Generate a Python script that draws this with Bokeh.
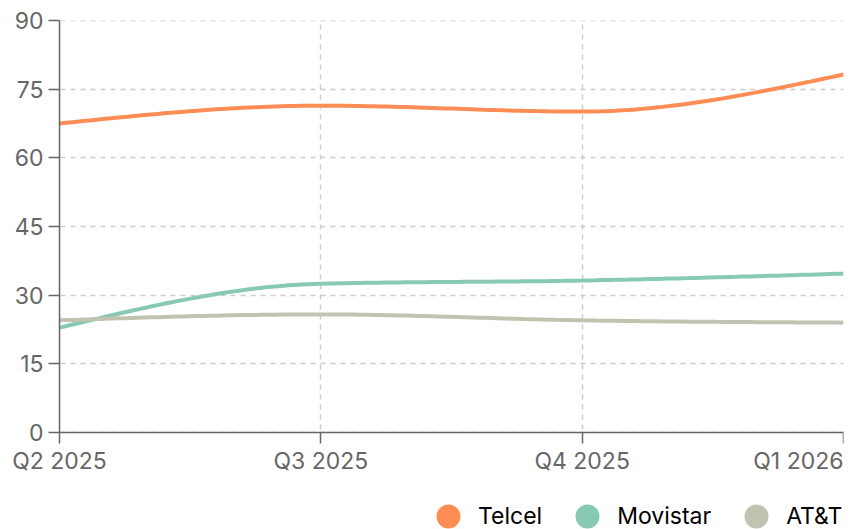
import numpy as np
from bokeh.plotting import figure
from bokeh.models import (Range1d, FixedTicker, Legend, LegendItem, Label,
                          BoxAnnotation)
from bokeh.embed import file_html
from bokeh.resources import INLINE

# ---------------- data ----------------
quarters = ["Q2 2025", "Q3 2025", "Q4 2025", "Q1 2026"]
telcel = [67.5, 71.4, 70.1, 78.2]
movistar = [22.9, 32.5, 33.2, 34.7]
att = [24.5, 25.8, 24.5, 24.0]
series_names = ["Telcel", "Movistar", "AT&T"]
series_colors = ["#fd8d55", "#88c9b4", "#c1c3b1"]
y_ticks = [0, 15, 30, 45, 60, 75, 90]

FONT = "Inter"
GRAY = "#666666"
FS = "23px"

W, H = 861, 529
LEFT, RIGHT, TOP = 59, 843, 20      # plot-area edges (px)
ZERO_PX = 432                       # where y = 0 sits (px)


def monotone_curve(xs, ys, n=40):
    """Monotone cubic (d3 curveMonotoneX style) rendering of a series."""
    xs = np.asarray(xs, float)
    ys = np.asarray(ys, float)
    h = np.diff(xs)
    s = np.diff(ys) / h
    m = len(xs)
    t = np.zeros(m)
    for i in range(1, m - 1):
        s0, s1 = s[i - 1], s[i]
        p_ = (s0 * h[i] + s1 * h[i - 1]) / (h[i - 1] + h[i])
        t[i] = (np.sign(s0) + np.sign(s1)) * min(abs(s0), abs(s1), 0.5 * abs(p_))
    t[0] = (3 * s[0] - t[1]) / 2 if m > 2 else s[0]
    t[-1] = (3 * s[-1] - t[-2]) / 2 if m > 2 else s[-1]
    ox, oy = [], []
    for i in range(m - 1):
        u = np.linspace(0, 1, n, endpoint=(i == m - 2))
        h00 = 2 * u**3 - 3 * u**2 + 1
        h10 = u**3 - 2 * u**2 + u
        h01 = -2 * u**3 + 3 * u**2
        h11 = u**3 - u**2
        ox.extend(xs[i] + u * h[i])
        oy.extend(h00 * ys[i] + h10 * h[i] * t[i] + h01 * ys[i + 1] + h11 * h[i] * t[i + 1])
    return ox, oy


xpos = list(range(len(quarters)))
x_last = xpos[-1]
y_max = y_ticks[-1]
# the frame covers the whole canvas (axes pinned at the zero lines), so the
# ranges are widened to keep the plot area where it belongs
px_per_y = (ZERO_PX - TOP) / y_max
y_bottom = -(H - ZERO_PX) / px_per_y
y_top = y_max + TOP / px_per_y
x_left = -x_last * LEFT / (RIGHT - LEFT)

p = figure(width=W, height=H, output_backend="svg", toolbar_location=None,
           x_range=Range1d(x_left, x_last), y_range=Range1d(y_bottom, y_top),
           min_border_left=0, min_border_right=W - RIGHT, min_border_top=0,
           min_border_bottom=0)
p.outline_line_color = None
p.background_fill_color = "white"
p.border_fill_color = "white"

# grids
for g in (p.xgrid, p.ygrid):
    g.grid_line_color = "#cccccc"
    g.grid_line_dash = "5 5"
    g.grid_line_width = 1.5
p.ygrid.ticker = FixedTicker(ticks=y_ticks)
p.xgrid.ticker = FixedTicker(ticks=xpos)
# hide the parts of the grid that fall outside the plot area
for kw in (dict(top=0), dict(right=0), dict(bottom=y_max)):
    p.add_layout(BoxAnnotation(fill_color="white", fill_alpha=1.0,
                               line_color=None, level="underlay", **kw))

# axes
p.xaxis.fixed_location = 0
p.yaxis.fixed_location = 0
p.xaxis.ticker = FixedTicker(ticks=xpos)
overrides = {i: q for i, q in enumerate(quarters)}
overrides[x_last] = ""
p.xaxis.major_label_overrides = overrides
p.xaxis.bounds = (0, x_last)
p.yaxis.ticker = FixedTicker(ticks=y_ticks)
p.yaxis.bounds = (0, y_max)
for ax in (p.xaxis, p.yaxis):
    ax.axis_line_color = GRAY
    ax.axis_line_width = 1.5
    ax.major_tick_line_color = GRAY
    ax.major_tick_line_width = 1.5
    ax.major_tick_out = 11
    ax.major_tick_in = 0
    ax.minor_tick_line_color = None
    ax.major_label_text_font = FONT
    ax.major_label_text_font_size = FS
    ax.major_label_text_color = GRAY
p.yaxis.major_label_standoff = 5
p.xaxis.major_label_standoff = 3

# last x tick label, right-aligned to the final tick
p.add_layout(Label(x=x_last, y=0, y_offset=-14, text=quarters[-1],
                   text_align="right", text_baseline="top",
                   text_font=FONT, text_font_size=FS, text_color=GRAY))

# lines
items = []
for name, vals, col in zip(series_names, [telcel, movistar, att], series_colors):
    cx, cy = monotone_curve(xpos, vals)
    p.line(cx, cy, line_color=col, line_width=4)
    key = p.scatter(x=[np.nan], y=[np.nan], size=0, fill_color=col,
                    line_color=col, line_width=13.6)
    items.append(LegendItem(label=name, renderers=[key]))

legend = Legend(items=items, orientation="horizontal", location=(435, -1),
                glyph_width=26, glyph_height=26, label_standoff=17, spacing=32,
                padding=0, margin=0, border_line_color=None,
                background_fill_alpha=0,
                label_text_font=FONT, label_text_font_size=FS,
                label_text_color="#000000")
p.add_layout(legend, "center")

open("out.html", "w").write(file_html(p, INLINE))
